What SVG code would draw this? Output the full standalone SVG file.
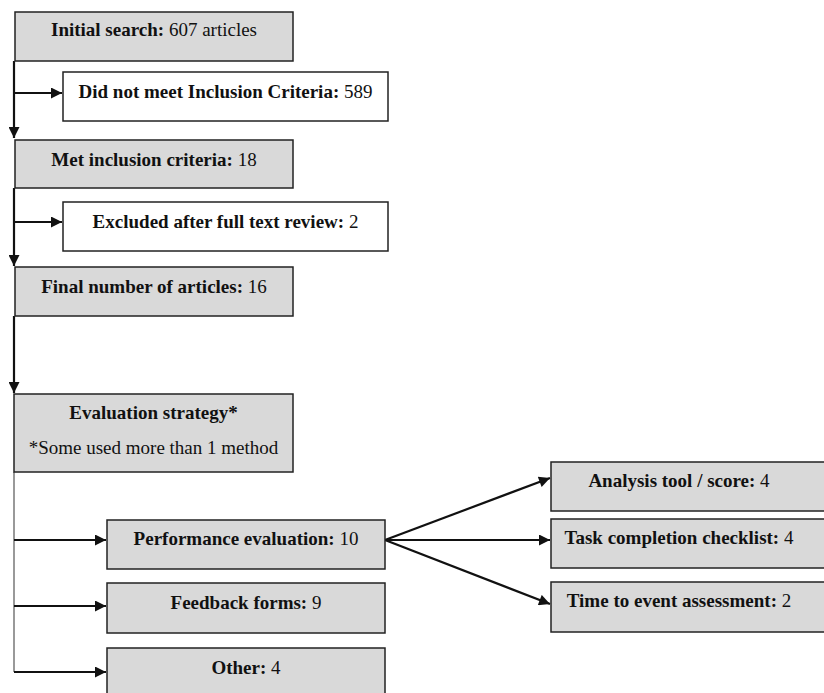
<svg xmlns="http://www.w3.org/2000/svg" width="824" height="693" viewBox="0 0 824 693">
<style>
.g{fill:#d9d9d9;stroke:#222;stroke-width:1.5}
.w{fill:#fff;stroke:#222;stroke-width:1.5}
text{font-family:"Liberation Serif","Times New Roman",serif;font-size:19px;fill:#111;text-anchor:middle}
.b{font-weight:bold}
.c{fill:none;stroke:#111;stroke-width:2.2}
.t{fill:none;stroke:#555;stroke-width:1.2}
</style>
<defs>
<marker id="ah" viewBox="0 0 10 10" refX="10" refY="5" markerWidth="5.5" markerHeight="5" markerUnits="strokeWidth" orient="auto">
<path d="M0,0 L10,5 L0,10 z" fill="#111"/>
</marker>
</defs>
<rect width="824" height="693" fill="#fff"/>
<g id="connectors">
<path class="c" d="M14,61 V138" marker-end="url(#ah)"/>
<path class="c" d="M14,93 H62" marker-end="url(#ah)"/>
<path class="c" d="M14,188 V266" marker-end="url(#ah)"/>
<path class="c" d="M14,222 H62" marker-end="url(#ah)"/>
<path class="c" d="M14,316 V393" marker-end="url(#ah)"/>
<path class="t" d="M14,472 V672"/>
<path class="c" d="M14,540 H106" marker-end="url(#ah)"/>
<path class="c" d="M14,606 H106" marker-end="url(#ah)"/>
<path class="c" d="M14,672 H106" marker-end="url(#ah)"/>
<path class="c" d="M385,540 L550,478" marker-end="url(#ah)"/>
<path class="c" d="M385,540 H550" marker-end="url(#ah)"/>
<path class="c" d="M385,540 L550,604" marker-end="url(#ah)"/>
</g>
<g id="initial"><rect class="g" x="15" y="12" width="278" height="49"/><text x="154" y="36"><tspan class="b">Initial search:</tspan> 607 articles</text></g>
<g id="notmet"><rect class="w" x="63" y="72" width="325" height="49"/><text x="225.5" y="98"><tspan class="b">Did not meet Inclusion Criteria:</tspan> 589</text></g>
<g id="met"><rect class="g" x="15" y="140" width="278" height="48"/><text x="154" y="166"><tspan class="b">Met inclusion criteria:</tspan> 18</text></g>
<g id="excluded"><rect class="w" x="63" y="202" width="325" height="49"/><text x="225.5" y="228"><tspan class="b">Excluded after full text review:</tspan> 2</text></g>
<g id="final"><rect class="g" x="15" y="267" width="278" height="49"/><text x="154" y="293"><tspan class="b">Final number of articles:</tspan> 16</text></g>
<g id="evaluation"><rect class="g" x="14" y="394" width="279" height="78"/><text x="153.5" y="419" class="b">Evaluation strategy*</text><text x="153.5" y="454">*Some used more than 1 method</text></g>
<g id="performance"><rect class="g" x="107" y="520" width="278" height="49"/><text x="246" y="545"><tspan class="b">Performance evaluation:</tspan> 10</text></g>
<g id="feedback"><rect class="g" x="107" y="583" width="278" height="50"/><text x="246" y="609"><tspan class="b">Feedback forms:</tspan> 9</text></g>
<g id="other"><rect class="g" x="107" y="648" width="278" height="60"/><text x="246" y="674"><tspan class="b">Other:</tspan> 4</text></g>
<g id="analysis"><rect class="g" x="551" y="462" width="280" height="49"/><text x="679" y="487"><tspan class="b">Analysis tool / score:</tspan> 4</text></g>
<g id="task"><rect class="g" x="551" y="519" width="280" height="49"/><text x="679" y="544"><tspan class="b">Task completion checklist:</tspan> 4</text></g>
<g id="time"><rect class="g" x="551" y="582" width="280" height="50"/><text x="679" y="607"><tspan class="b">Time to event assessment:</tspan> 2</text></g>
</svg>
